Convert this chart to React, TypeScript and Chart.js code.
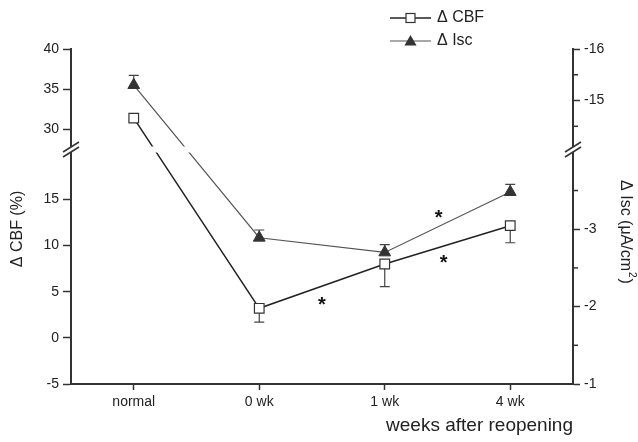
import React, { useEffect, useRef } from 'react';
import { Chart, registerables } from 'chart.js';

Chart.register(...registerables);

const categories = ['normal', '0 wk', '1 wk', '4 wk'];
const cbfValues = [31.4, 3.2, 8.0, 12.15];
const cbfErrors = [0.4, 1.5, 2.45, 1.85];
const iscValues = [-15.3, -2.89, -2.7, -3.48];
const iscErrors = [0.19, 0.1, 0.1, 0.1];
const leftTicks = [-5, 0, 5, 10, 15, 30, 35, 40];
const rightTicks = [-1, -2, -3, -15, -16];
const rightMinorTicks = [-1.5, -2.5, -3.5, -14.5, -15.5];
const starX = [1.5, 2.43, 2.47];
const starY = [4.1, 13.5, 8.6];

// broken-axis segments (lower part / upper part of each axis)
const BREAK_FRAC = 0.7;
const leftLower = [-5, 20.4];
const leftUpper = [27.5, 40];
const rightLower = [-1, -4.03];
const rightUpper = [-14.05, -16];

const FONT = '"Liberation Sans", Arial, Helvetica, sans-serif';
const TEXT = '#222';
const AXIS = '#333';

function mapBroken(v: number, lower: number[], upper: number[]) {
  const t = (v - lower[0]) / (lower[1] - lower[0]);
  if (t <= 1) return t * BREAK_FRAC;
  const s = (v - upper[0]) / (upper[1] - upper[0]);
  return BREAK_FRAC + s * (1 - BREAK_FRAC);
}
const mapLeft = (v: number) => mapBroken(v, leftLower, leftUpper);
const mapRight = (v: number) => mapBroken(v, rightLower, rightUpper);

function drawTriangle(ctx: CanvasRenderingContext2D, x: number, y: number, r: number) {
  const w = r * Math.sqrt(3) / 2;
  ctx.beginPath();
  ctx.moveTo(x, y - r);
  ctx.lineTo(x + w, y + r / 2);
  ctx.lineTo(x - w, y + r / 2);
  ctx.closePath();
  ctx.fill();
}

const decor = {
  id: 'decor',
  beforeDatasetsDraw(chart: any) {
    const ctx = chart.ctx as CanvasRenderingContext2D;
    const xs = chart.scales.x, yl = chart.scales.y, yr = chart.scales.y1;
    ctx.save();
    ctx.strokeStyle = '#444';
    ctx.lineWidth = 1.2;
    const bar = (x: number, y0: number, y1: number) => {
      ctx.beginPath();
      ctx.moveTo(x, y0);
      ctx.lineTo(x, y1);
      ctx.moveTo(x - 5, y1);
      ctx.lineTo(x + 5, y1);
      ctx.stroke();
    };
    cbfValues.forEach((v, i) => {
      const x = xs.getPixelForValue(i);
      bar(x, yl.getPixelForValue(mapLeft(v)), yl.getPixelForValue(mapLeft(v - cbfErrors[i])));
    });
    iscValues.forEach((v, i) => {
      const x = xs.getPixelForValue(i);
      bar(x, yr.getPixelForValue(mapRight(v)), yr.getPixelForValue(mapRight(v - iscErrors[i])));
    });
    ctx.restore();
  },
  afterDatasetsDraw(chart: any) {
    const ctx = chart.ctx as CanvasRenderingContext2D;
    const ca = chart.chartArea;
    const xs = chart.scales.x, yl = chart.scales.y;
    const yb = yl.getPixelForValue(BREAK_FRAC);
    ctx.save();
    ctx.fillStyle = '#fff';
    ctx.fillRect(ca.left + 3, yb - 3, ca.right - ca.left - 6, 6);
    ctx.fillStyle = '#111';
    ctx.font = `bold 20px ${FONT}`;
    ctx.textAlign = 'center';
    ctx.textBaseline = 'middle';
    starX.forEach((sx, i) => {
      ctx.fillText('*', xs.getPixelForValue(sx), yl.getPixelForValue(mapLeft(starY[i])) + 5);
    });
    ctx.restore();
  },
  afterDraw(chart: any) {
    const ctx = chart.ctx as CanvasRenderingContext2D;
    const ca = chart.chartArea;
    const yl = chart.scales.y, yr = chart.scales.y1;
    const yb = yl.getPixelForValue(BREAK_FRAC);
    ctx.save();
    // minor ticks on right axis
    ctx.strokeStyle = AXIS;
    ctx.lineWidth = 1.5;
    rightMinorTicks.forEach((v) => {
      const y = yr.getPixelForValue(mapRight(v));
      ctx.beginPath();
      ctx.moveTo(ca.right, y);
      ctx.lineTo(ca.right + 5, y);
      ctx.stroke();
    });
    // axis break marks
    [ca.left, ca.right].forEach((x) => {
      ctx.fillStyle = '#fff';
      ctx.fillRect(x - 3, yb - 2.5, 6, 5);
      ctx.strokeStyle = AXIS;
      ctx.lineWidth = 1.5;
      [-2.5, 2.5].forEach((d) => {
        ctx.beginPath();
        ctx.moveTo(x - 8, yb + d + 5);
        ctx.lineTo(x + 8, yb + d - 5);
        ctx.stroke();
      });
    });
    // axis titles
    ctx.fillStyle = TEXT;
    ctx.font = `16px ${FONT}`;
    ctx.textAlign = 'center';
    ctx.textBaseline = 'middle';
    ctx.save();
    ctx.translate(18, 229);
    ctx.rotate(-Math.PI / 2);
    ctx.fillText('\u0394 CBF (%)', 0, 0);
    ctx.restore();

    ctx.save();
    ctx.translate(625, 232);
    ctx.rotate(Math.PI / 2);
    ctx.textAlign = 'left';
    const a = '\u0394 Isc (\u03BCA/cm';
    ctx.font = `16px ${FONT}`;
    const wa = ctx.measureText(a).width;
    ctx.font = `10px ${FONT}`;
    const w2 = ctx.measureText('2').width + 2;
    ctx.font = `16px ${FONT}`;
    const wc = ctx.measureText(')').width;
    let sx = -(wa + w2 + wc) / 2;
    ctx.fillText(a, sx, 0);
    sx += wa;
    ctx.font = `10px ${FONT}`;
    ctx.fillText('2', sx + 1, -7);
    sx += w2;
    ctx.font = `16px ${FONT}`;
    ctx.fillText(')', sx, 0);
    ctx.restore();

    ctx.font = `19px ${FONT}`;
    ctx.textAlign = 'right';
    ctx.fillText('weeks after reopening', ca.right, 426);

    // legend
    const lx0 = 390, lx1 = 431, lm = 410.5;
    const rows = [18, 41];
    ctx.lineWidth = 1.3;
    ctx.strokeStyle = '#222';
    ctx.beginPath();
    ctx.moveTo(lx0, rows[0]);
    ctx.lineTo(lx1, rows[0]);
    ctx.stroke();
    ctx.fillStyle = '#fff';
    ctx.fillRect(lm - 4.5, rows[0] - 4.5, 9, 9);
    ctx.strokeStyle = '#333';
    ctx.lineWidth = 1.2;
    ctx.strokeRect(lm - 4.5, rows[0] - 4.5, 9, 9);
    ctx.strokeStyle = '#555';
    ctx.beginPath();
    ctx.moveTo(lx0, rows[1]);
    ctx.lineTo(lx1, rows[1]);
    ctx.stroke();
    ctx.fillStyle = '#333';
    drawTriangle(ctx, lm, rows[1] + 1, 7);
    ctx.fillStyle = TEXT;
    ctx.font = `16px ${FONT}`;
    ctx.textAlign = 'left';
    ctx.textBaseline = 'middle';
    ctx.fillText('\u0394 CBF', 437, rows[0]);
    ctx.fillText('\u0394 Isc', 437, rows[1]);
    ctx.restore();
  },
};

export default function App() {
  const ref = useRef<HTMLCanvasElement>(null);
  useEffect(() => {
    if (!ref.current) return;
    const chart = new Chart(ref.current, {
      type: 'line',
      data: {
        labels: categories,
        datasets: [
          {
            label: '\u0394 Isc',
            data: iscValues.map(mapRight),
            yAxisID: 'y1',
            borderColor: '#555',
            borderWidth: 1.2,
            pointStyle: 'triangle',
            pointRadius: 6.8,
            pointBackgroundColor: '#333',
            pointBorderColor: '#333',
            pointBorderWidth: 1,
            tension: 0,
            fill: false,
          },
          {
            label: '\u0394 CBF',
            data: cbfValues.map(mapLeft),
            yAxisID: 'y',
            borderColor: '#222',
            borderWidth: 1.5,
            pointStyle: 'rect',
            pointRadius: 6.8,
            pointBackgroundColor: '#fff',
            pointBorderColor: '#333',
            pointBorderWidth: 1.2,
            tension: 0,
            fill: false,
          },
        ],
      },
      options: {
        responsive: false,
        animation: false,
        layout: { padding: { top: 49, left: 0, right: 0, bottom: 0 } },
        plugins: { legend: { display: false }, tooltip: { enabled: false } },
        scales: {
          x: {
            type: 'category',
            offset: true,
            afterFit: (s: any) => { s.height = 58; },
            grid: { offset: false, drawOnChartArea: false, tickLength: 6, tickColor: AXIS, tickWidth: 1.5 },
            border: { display: true, color: AXIS, width: 2 },
            ticks: { font: { family: FONT, size: 14 }, color: TEXT, padding: 4, maxRotation: 0 },
          },
          y: {
            type: 'linear',
            position: 'left',
            min: 0,
            max: 1,
            afterFit: (s: any) => { s.width = 71; },
            afterBuildTicks: (s: any) => { s.ticks = leftTicks.map((v) => ({ value: mapLeft(v) })); },
            grid: { drawOnChartArea: false, tickLength: 8, tickColor: AXIS, tickWidth: 1.5 },
            border: { display: true, color: AXIS, width: 2 },
            ticks: {
              autoSkip: false,
              padding: 4,
              color: TEXT,
              font: { family: FONT, size: 14 },
              callback: (_v: any, i: number) => String(leftTicks[i]),
            },
          },
          y1: {
            type: 'linear',
            position: 'right',
            min: 0,
            max: 1,
            afterFit: (s: any) => { s.width = 65; },
            afterBuildTicks: (s: any) => { s.ticks = rightTicks.map((v) => ({ value: mapRight(v) })); },
            grid: { drawOnChartArea: false, tickLength: 7, tickColor: AXIS, tickWidth: 1.5 },
            border: { display: true, color: AXIS, width: 2 },
            ticks: {
              autoSkip: false,
              padding: 4,
              color: TEXT,
              font: { family: FONT, size: 14 },
              callback: (_v: any, i: number) => String(rightTicks[i]),
            },
          },
        },
      },
      plugins: [decor],
    });
    return () => chart.destroy();
  }, []);
  return (
    <div style={{ position: 'absolute', left: 0, top: 0, width: 638, height: 442, background: '#fff' }}>
      <canvas ref={ref} width={638} height={442} />
    </div>
  );
}
